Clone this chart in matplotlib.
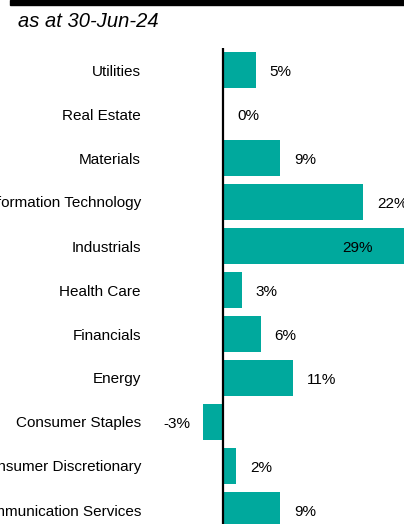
import matplotlib.pyplot as plt
from matplotlib.patches import Rectangle

plt.rcParams['font.family'] = ['Liberation Sans', 'DejaVu Sans']

# sector weights, top to bottom
sectors = ['Utilities', 'Real Estate', 'Materials', 'Information Technology',
           'Industrials', 'Health Care', 'Financials', 'Energy',
           'Consumer Staples', 'Consumer Discretionary', 'Communication Services']
weights = [5.1, 0.0, 8.9, 21.9, 29.0, 2.9, 5.9, 11.0, -3.1, 2.1, 8.9]

title = 'as at 30-Jun-24'
bar_color = '#00A99D'

W, H = 404, 524
fig = plt.figure(figsize=(W / 100, H / 100), dpi=100)

# axes placed in pixels; it runs past the right and bottom edges on purpose
px_left, px_right = 200.6, 405.4
px_top, px_bottom = 48, 554
ax = fig.add_axes([px_left / W, (H - px_bottom) / H,
                   (px_right - px_left) / W, (px_bottom - px_top) / H])

y = list(range(len(sectors)))
ax.barh(y, weights, height=0.84, color=bar_color, zorder=2)
ax.axvline(0, color='black', lw=1.6, zorder=3)

ax.set_xlim(-3.5, 28.5)
ax.set_ylim(len(sectors), -0.5)

ax.set_yticks(y)
ax.set_yticklabels(sectors, fontsize=11)
ax.tick_params(axis='y', length=0, pad=43)
ax.set_xticks([])
for s in ax.spines.values():
    s.set_visible(False)

dy = -1.7  # value labels sit a little below the bar centre
for yi, v in zip(y, weights):
    lbl = f'{v:.0f}%'
    if v >= 25:
        # too long to fit, label goes inside the bar
        ax.annotate(lbl, (v, yi), xytext=(-26, dy), textcoords='offset points',
                    ha='right', va='center', fontsize=11,
                    annotation_clip=False)
    elif v < 0:
        ax.annotate(lbl, (v, yi), xytext=(-9.5, dy), textcoords='offset points',
                    ha='right', va='center', fontsize=11)
    else:
        ax.annotate(lbl, (v, yi), xytext=(10, dy), textcoords='offset points',
                    ha='left', va='center', fontsize=11)

# black rule across the top and the date line
fig.patches.append(Rectangle((10 / W, 1 - 5 / H), 1, 5 / H, color='black',
                             transform=fig.transFigure, figure=fig))
fig.text(18 / W, 1 - 21.5 / H, title, fontsize=14.5, style='italic',
         ha='left', va='center')

fig.savefig('out.png', dpi=100)
